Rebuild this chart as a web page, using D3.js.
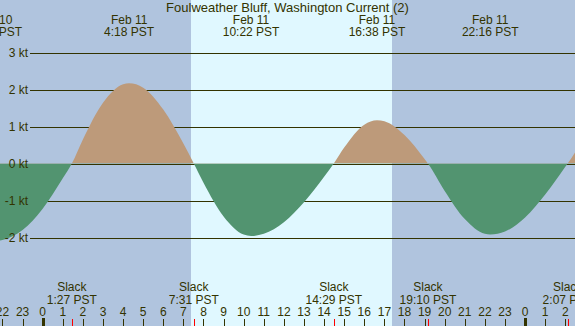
<!DOCTYPE html>
<html>
<head>
<meta charset="utf-8">
<script src="https://cdn.jsdelivr.net/npm/d3@7"></script>
<style>
  html, body { margin: 0; padding: 0; background: #b0c4de; }
  svg { display: block; }
  text { font-family: "Liberation Sans", Arial, sans-serif; fill: #333300; }
</style>
</head>
<body>
<svg id="chart" width="575" height="326"></svg>
<script>
const WIDTH = 575
const HEIGHT = 326

const TITLE = "Foulweather Bluff, Washington Current (2)"

// current readings: hours from midnight Feb 11 (PST), knots (+ flood / - ebb)
const curveHours = [-2.43, -2, -1, 0, 1, 1.45, 2, 3, 4, 4.30, 5, 6, 7, 7.517, 8, 9, 10, 10.367, 11, 12, 13, 14, 14.483,
  15, 16, 16.633, 17, 18, 19, 19.167, 20, 21, 22, 22.267, 23, 24, 25, 26, 26.117, 26.6]
const curveKnots = [-2.10, -2.07, -1.80, -1.22, -0.40, 0, 0.65, 1.64, 2.14, 2.17, 2.05, 1.46, 0.54, 0, -0.52, -1.43, -1.92, -1.96, -1.90, -1.59, -1.05, -0.36, 0,
  0.43, 1.05, 1.17, 1.14, 0.77, 0.12, 0, -0.74, -1.50, -1.90, -1.92, -1.84, -1.46, -0.84, -0.09, 0, 0.40]

// max flood / ebb events (top labels)
const maxDay = [-1, 0, 0, 0, 0]
const maxDate = ["Feb 10", "Feb 11", "Feb 11", "Feb 11", "Feb 11"]
const maxClock = ["21:34", "4:18", "10:22", "16:38", "22:16"]

// slack events (bottom labels)
const slackDay = [0, 0, 0, 0, 1]
const slackClock = ["1:27", "7:31", "14:29", "19:10", "2:07"]

const sunrise = "7:23"
const sunset = "17:23"

const knotTicks = [3, 2, 1, 0, -1, -2]

const NIGHT_COLOR = "#b0c4de"
const DAY_COLOR = "#e0f8ff"
const FLOOD_COLOR = "#bd9a7a"
const EBB_COLOR = "#529470"
const INK = "#333300"

function clockToHours(clock, day){
  var parts = clock.split(":")
  return day * 24 + (+parts[0]) + (+parts[1]) / 60
}

var x = d3.scaleLinear().domain([-2.124, 26.483]).range([0, WIDTH])
var y = d3.scaleLinear().domain([0, 1]).range([163.5, 126.5])

var svg = d3.select("#chart")

//Night / day background
svg.append("rect")
  .attr("width", WIDTH).attr("height", HEIGHT)
  .attr("fill", NIGHT_COLOR)

var dayStart = x(clockToHours(sunrise, 0))
var dayEnd = x(clockToHours(sunset, 0))
svg.append("rect")
  .attr("x", Math.round(dayStart)).attr("y", 0)
  .attr("width", Math.round(dayEnd) - Math.round(dayStart)).attr("height", HEIGHT)
  .attr("fill", DAY_COLOR)

//Grid lines (behind the fills)
svg.append("g")
  .selectAll("line")
  .data(knotTicks)
  .join("line")
    .attr("x1", 30).attr("x2", WIDTH)
    .attr("y1", d => y(d) + 0.5).attr("y2", d => y(d) + 0.5)
    .attr("stroke", INK)
    .attr("stroke-width", 1)
    .attr("shape-rendering", "crispEdges")

//Current curve, split into flood (above 0) and ebb (below 0)
var points = curveHours.map((h, i) => [h, curveKnots[i]])

var area = d3.area()
  .x(d => x(d[0]))
  .y0(y(0))
  .y1(d => y(d[1]))
  .curve(d3.curveMonotoneX)

var defs = svg.append("defs")
defs.append("clipPath").attr("id", "clipFlood")
  .append("rect").attr("x", 0).attr("y", 0).attr("width", WIDTH).attr("height", y(0))
defs.append("clipPath").attr("id", "clipEbb")
  .append("rect").attr("x", 0).attr("y", y(0)).attr("width", WIDTH).attr("height", HEIGHT - y(0))

svg.append("path")
  .datum(points)
  .attr("d", area)
  .attr("fill", FLOOD_COLOR)
  .attr("clip-path", "url(#clipFlood)")

svg.append("path")
  .datum(points)
  .attr("d", area)
  .attr("fill", EBB_COLOR)
  .attr("clip-path", "url(#clipEbb)")

//Knot labels (drawn over the fills)
svg.append("g")
  .selectAll("text")
  .data(knotTicks)
  .join("text")
    .attr("x", 28)
    .attr("y", d => y(d) + 4.5)
    .attr("text-anchor", "end")
    .attr("font-size", 12)
    .text(d => (d < 0 ? "-" + Math.abs(d) : d) + " kt")

//Title
svg.append("text")
  .attr("x", WIDTH / 2)
  .attr("y", 12)
  .attr("text-anchor", "middle")
  .attr("font-size", 13)
  .text(TITLE)

//Max current labels along the top
var maxEvents = maxClock.map((c, i) => ({ t: clockToHours(c, maxDay[i]), date: maxDate[i], clock: c }))
var maxLabels = svg.append("g")
  .selectAll("g")
  .data(maxEvents)
  .join("g")
    .attr("transform", d => "translate(" + x(d.t) + ",0)")

maxLabels.append("text")
  .attr("y", 24)
  .attr("text-anchor", "middle")
  .attr("font-size", 12)
  .text(d => d.date)

maxLabels.append("text")
  .attr("y", 36)
  .attr("text-anchor", "middle")
  .attr("font-size", 12)
  .text(d => d.clock + " PST")

//Slack labels along the bottom
var slackEvents = slackClock.map((c, i) => ({ t: clockToHours(c, slackDay[i]), clock: c }))
var slackLabels = svg.append("g")
  .selectAll("g")
  .data(slackEvents)
  .join("g")
    .attr("transform", d => "translate(" + x(d.t) + ",0)")

slackLabels.append("text")
  .attr("y", 291)
  .attr("text-anchor", "middle")
  .attr("font-size", 12)
  .text("Slack")

slackLabels.append("text")
  .attr("y", 303.5)
  .attr("text-anchor", "middle")
  .attr("font-size", 12)
  .text(d => d.clock + " PST")

//Hour axis
var hours = d3.range(-2, 27)

svg.append("g")
  .selectAll("text")
  .data(hours)
  .join("text")
    .attr("x", d => x(d))
    .attr("y", 316)
    .attr("text-anchor", "middle")
    .attr("font-size", 12)
    .text(d => ((d % 24) + 24) % 24)

svg.append("g")
  .selectAll("rect")
  .data(hours)
  .join("rect")
    .attr("x", d => (d % 24 == 0) ? Math.round(x(d)) - 1 : Math.round(x(d)))
    .attr("y", d => (d % 24 == 0) ? 318 : 319)
    .attr("width", d => (d % 24 == 0) ? 3 : 1)
    .attr("height", d => (d % 24 == 0) ? 8 : 7)
    .attr("fill", INK)

//Red marks at slack times
svg.append("g")
  .selectAll("rect")
  .data(slackEvents)
  .join("rect")
    .attr("x", d => Math.round(x(d.t)))
    .attr("y", 319)
    .attr("width", 1)
    .attr("height", 7)
    .attr("fill", "#ff0000")
</script>
</body>
</html>
